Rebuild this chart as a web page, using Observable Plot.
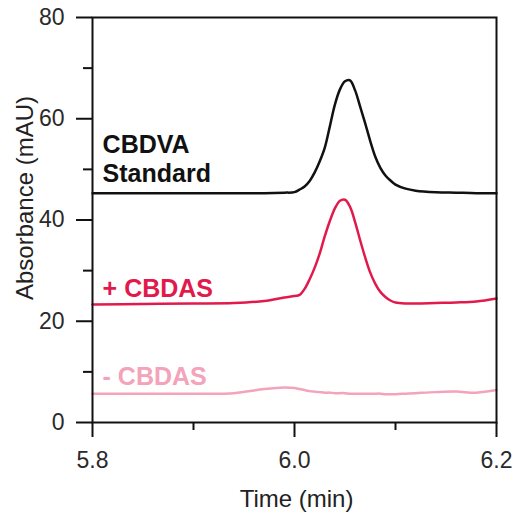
<!DOCTYPE html>
<html>
<head>
<meta charset="utf-8">
<script src="https://cdn.jsdelivr.net/npm/d3@7"></script>
<script src="https://cdn.jsdelivr.net/npm/@observablehq/plot@0.6"></script>
<style>
  html, body { margin: 0; padding: 0; background: #fff; }
  #chart { width: 517px; height: 520px; }
</style>
</head>
<body>
<div id="chart"></div>
<script>
// Retention time (min)
const times = [5.80, 5.85, 5.90, 5.94, 5.97, 5.99, 6.00, 6.005, 6.01, 6.015, 6.02, 6.025, 6.03, 6.035, 6.04, 6.045, 6.05, 6.055, 6.06, 6.065, 6.07, 6.075, 6.08, 6.085, 6.09, 6.095, 6.10, 6.11, 6.12, 6.14, 6.16, 6.18, 6.20];
// Absorbance (mAU) for each trace
const standard = [45.3, 45.3, 45.3, 45.3, 45.3, 45.4, 45.5, 46.0, 46.6, 47.7, 49.4, 51.6, 54.3, 58.5, 62.8, 65.8, 67.4, 67.6, 65.6, 62.4, 59.1, 55.6, 52.5, 50.3, 48.8, 47.8, 47.0, 46.2, 45.8, 45.5, 45.4, 45.3, 45.3];
const plusCBDAS = [23.3, 23.4, 23.5, 23.6, 24.0, 24.7, 25.0, 25.2, 26.4, 28.3, 30.6, 33.4, 36.8, 39.8, 42.3, 43.8, 44.0, 42.6, 39.6, 36.0, 32.6, 29.6, 27.4, 25.8, 24.8, 24.1, 23.7, 23.5, 23.5, 23.6, 23.7, 23.9, 24.5];
const minusCBDAS = [5.7, 5.7, 5.7, 5.8, 6.6, 6.9, 6.8, 6.6, 6.4, 6.2, 6.1, 6.0, 5.9, 5.9, 5.8, 5.8, 5.8, 5.7, 5.7, 5.7, 5.7, 5.7, 5.7, 5.7, 5.6, 5.6, 5.6, 5.7, 5.8, 6.0, 6.1, 5.9, 6.4];

// Axis ticks
const xTicks = [5.8, 6.0, 6.2];
const xMinorTicks = [5.9, 6.1];
const yTicks = [0, 20, 40, 60, 80];
const yMinorTicks = [10, 30, 50, 70];

// Trace labels
const labelText = ["CBDVA", "Standard", "+ CBDAS", "- CBDAS"];
const labelTime = [5.81, 5.81, 5.81, 5.81];
const labelValue = [54.9, 49.0, 26.4, 8.9];
const labelColor = ["#111111", "#111111", "#e21a4c", "#f3a3ba"];

const xTitle = "Time (min)";
const yTitle = "Absorbance (mAU)";

const rows = times.map((t, i) => ({t, standard: standard[i], plus: plusCBDAS[i], minus: minusCBDAS[i]}));
const labels = labelText.map((text, i) => ({text, t: labelTime[i], v: labelValue[i], color: labelColor[i]}));

const font = "'Liberation Sans', Arial, Helvetica, sans-serif";

const chart = Plot.plot({
  width: 517,
  height: 520,
  marginLeft: 92,
  marginRight: 21,
  marginTop: 17,
  marginBottom: 98,
  style: {fontFamily: font, background: "#fff", overflow: "visible"},
  x: {domain: [5.8, 6.2]},
  y: {domain: [0, 80]},
  marks: [
    Plot.line(rows, {x: "t", y: "minus", stroke: "#f3a3ba", strokeWidth: 2.5, curve: "catmull-rom"}),
    Plot.line(rows, {x: "t", y: "plus", stroke: "#e21a4c", strokeWidth: 2.5, curve: "catmull-rom"}),
    Plot.line(rows, {x: "t", y: "standard", stroke: "#111111", strokeWidth: 2.5, curve: "catmull-rom"}),
    Plot.frame({stroke: "#111", strokeWidth: 2}),
    Plot.axisX(xTicks, {tickSize: 15, tickPadding: 14, strokeWidth: 2, stroke: "#111", fill: "#2a2a2a", fontSize: 23, tickFormat: d3.format(".1f"), label: null}),
    Plot.axisX(xMinorTicks, {tickSize: 8, strokeWidth: 2, stroke: "#111", tickFormat: () => "", label: null}),
    Plot.axisY(yTicks, {tickSize: 16, tickPadding: 12, strokeWidth: 2, stroke: "#111", fill: "#2a2a2a", fontSize: 23, tickFormat: d3.format("d"), label: null}),
    Plot.axisY(yMinorTicks, {tickSize: 9, strokeWidth: 2, stroke: "#111", tickFormat: () => "", label: null}),
    Plot.text(labels, {x: "t", y: "v", text: "text", fill: "color", textAnchor: "start", lineAnchor: "middle", fontSize: 25, fontWeight: "bold"}),
    Plot.text([xTitle], {frameAnchor: "bottom", text: d => d, textAnchor: "middle", lineAnchor: "middle", dy: 77, dx: 2, fontSize: 24, fill: "#222"}),
    Plot.text([yTitle], {frameAnchor: "left", text: d => d, rotate: -90, textAnchor: "middle", lineAnchor: "middle", dx: -67, dy: -22, fontSize: 24, fill: "#222"})
  ]
});

document.getElementById("chart").appendChild(chart);
</script>
</body>
</html>
